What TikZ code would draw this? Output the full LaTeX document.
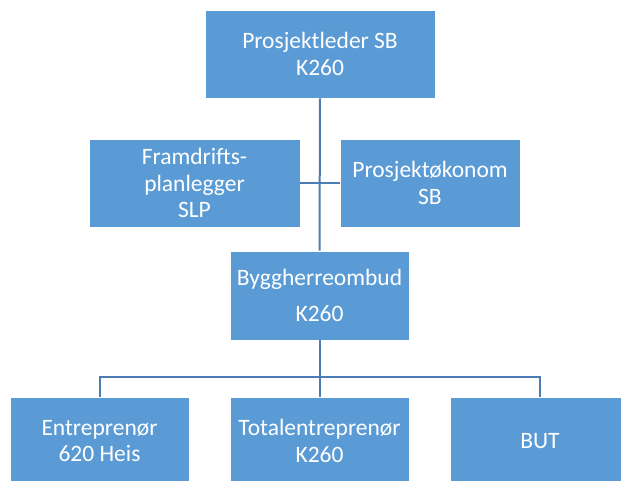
\documentclass[tikz,border=0pt]{standalone}
\usepackage{fontspec}
\setmainfont{Carlito}
\definecolor{boxblue}{HTML}{5B9BD5}
\definecolor{linkblue}{HTML}{4C7CB4}
\begin{document}
\begin{tikzpicture}[x=1pt,y=-1pt,
  orgbox/.style={fill=boxblue, draw=white, line width=0.8pt, text=white,
    align=center, inner sep=0pt, minimum height=88pt,
    font=\fontsize{23.5}{26.5}\selectfont},
  link/.style={draw=linkblue, line width=2pt}]
\useasboundingbox (0,0) rectangle (621,481);
\node[orgbox, minimum width=230pt] (top) at (320,54) {Prosjektleder SB\\K260};
\node[orgbox, minimum width=211pt] (plan) at (194.5,183) {Framdrifts-\\planlegger\\SLP};
\node[orgbox, minimum width=180pt] (oko) at (430,183) {Prosjektøkonom\\SB};
\node[orgbox, minimum width=179pt, minimum height=89pt] (bygg) at (319.5,295.5) {Byggherreombud\\[10pt]K260};
\node[orgbox, minimum width=179pt] (ent) at (99.5,441) {Entreprenør\\620 Heis};
\node[orgbox, minimum width=179pt] (tot) at (319.5,441) {Totalentreprenør\\K260};
\node[orgbox, minimum width=180pt] (but) at (540,441) {BUT};
\coordinate (bar) at (319.5,377);
\draw[link] (top.south) -- (bygg.north);
\draw[link] (plan.east) -- (oko.west);
\draw[link] (bygg.south) -- (tot.north);
\draw[link] (ent.north) |- (bar) -| (but.north);
\end{tikzpicture}
\end{document}
